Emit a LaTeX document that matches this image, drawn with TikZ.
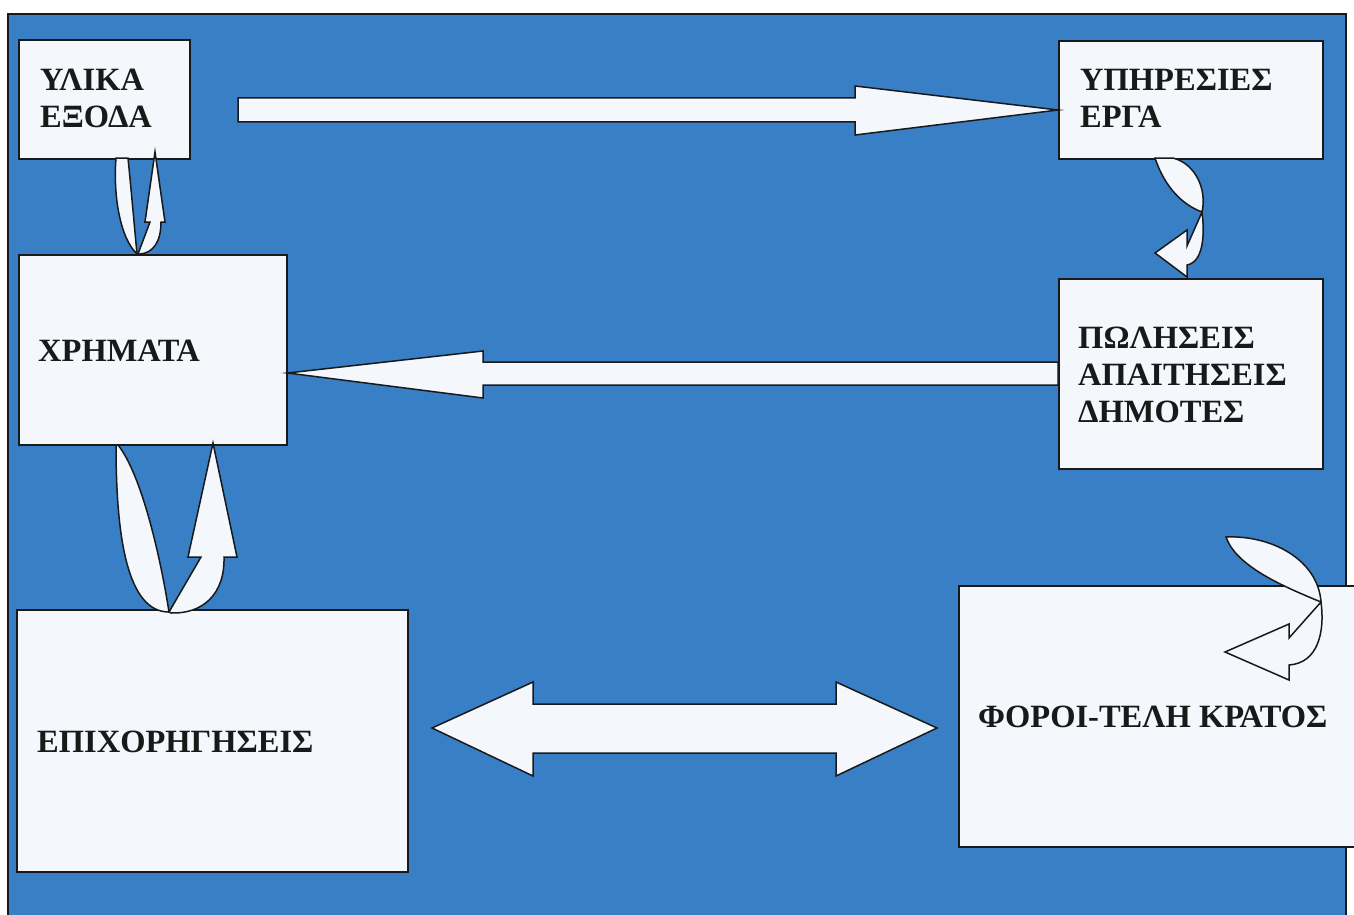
\documentclass[tikz,border=0pt]{standalone}
\usepackage{fontspec}
\setmainfont{Liberation Serif}
\definecolor{bgblue}{RGB}{57,127,197}
\definecolor{boxfill}{RGB}{244,247,251}
\definecolor{inkc}{RGB}{25,25,25}
\tikzset{
  box/.style={draw=inkc, fill=boxfill, line width=1.7pt, inner sep=0pt, anchor=north west},
  blockarrow/.style={draw=inkc, fill=boxfill, line width=1.5pt, line join=miter},
  lbl/.style={font=\fontsize{32.5}{37}\selectfont\bfseries, text=inkc, inner sep=0pt, anchor=base west}
}
\begin{document}
\begin{tikzpicture}[x=1pt,y=-1pt]
\useasboundingbox (0,0) rectangle (1354,915);
% background panel
\fill[bgblue] (8,14) rectangle (1346,915);
\draw[inkc, line width=1.2pt] (8,915) -- (8,14) -- (1346,14) -- (1346,915);

% boxes
\node[box, minimum width=171pt, minimum height=119pt] (ylika) at (18,39) {};
\node[box, minimum width=264pt, minimum height=118pt] (yperesies) at (1058,40) {};
\node[box, minimum width=268pt, minimum height=190pt] (chrimata) at (18,254) {};
\node[box, minimum width=264pt, minimum height=190pt] (poliseis) at (1058,278) {};
\node[box, minimum width=391pt, minimum height=262pt] (epichorigiseis) at (16,609) {};
\node[box, minimum width=400pt, minimum height=261pt] (foroi) at (958,585) {};

% labels
\node[lbl] (t1) at (40,91) {ΥΛΙΚΑ};
\node[lbl] (t2) at (40,128) {ΕΞΟΔΑ};
\node[lbl] (t3) at (1080,91) {ΥΠΗΡΕΣΙΕΣ};
\node[lbl] (t4) at (1080,128) {ΕΡΓΑ};
\node[lbl] (t5) at (38,361) {ΧΡΗΜΑΤΑ};
\node[lbl] (t6) at (1078,348) {ΠΩΛΗΣΕΙΣ};
\node[lbl] (t7) at (1078,385) {ΑΠΑΙΤΗΣΕΙΣ};
\node[lbl] (t8) at (1078,422) {ΔΗΜΟΤΕΣ};
\node[lbl] (t9) at (37,752) {ΕΠΙΧΟΡΗΓΗΣΕΙΣ};
\node[lbl] (t10) at (978,727) {ΦΟΡΟΙ-ΤΕΛΗ ΚΡΑΤΟΣ};

% straight block arrows
\draw[blockarrow] (238,98) -- (855,98) -- (855,86) -- (yperesies.west |- 0,110) -- (855,135) -- (855,122) -- (238,122) -- cycle;
\draw[blockarrow] (poliseis.west |- 0,362) -- (483,362) -- (483,351) -- (chrimata.east |- 0,373) -- (483,398) -- (483,385) -- (poliseis.west |- 0,385) -- cycle;
\draw[blockarrow] (432,728) -- (533,682) -- (533,704) -- (836,704) -- (836,682) -- (937,728) -- (836,776) -- (836,753) -- (533,753) -- (533,776) -- cycle;

% curved arrows between ΥΛΙΚΑ ΕΞΟΔΑ and ΧΡΗΜΑΤΑ
\draw[blockarrow] (116,158) .. controls (113,195) and (120,238) .. (137,254) .. controls (134,222) and (131,188) .. (128,158) -- cycle;
\draw[blockarrow] (138,254) -- (150,222) -- (145,222) -- (155,152) -- (165,222) -- (161,222) .. controls (161,242) and (153,253) .. (140,254) -- cycle;

% curved arrows between ΧΡΗΜΑΤΑ and ΕΠΙΧΟΡΗΓΗΣΕΙΣ
\draw[blockarrow] (116,445) .. controls (116,540) and (128,612) .. (169,612) .. controls (161,560) and (142,475) .. (118,445) -- cycle;
\draw[blockarrow] (169,612) -- (201,557) -- (188,557) -- (213,443) -- (237,557) -- (224,557) .. controls (225,595) and (202,614) .. (171,613) -- cycle;

% curved arrow between ΥΠΗΡΕΣΙΕΣ ΕΡΓΑ and ΠΩΛΗΣΕΙΣ
\draw[blockarrow] (1155,158) .. controls (1165,188) and (1183,205) .. (1202,212) .. controls (1207,190) and (1196,164) .. (1173,158) -- cycle;
\draw[blockarrow] (1202,212) -- (1187,246) -- (1187,230) -- (1155,253) -- (1187,277) -- (1187,265) .. controls (1203,262) and (1205,236) .. (1202,212) -- cycle;

% curved arrow at ΦΟΡΟΙ-ΤΕΛΗ ΚΡΑΤΟΣ
\draw[blockarrow] (1226,537) .. controls (1272,535) and (1318,560) .. (1321,602) .. controls (1282,586) and (1236,566) .. (1226,537) -- cycle;
\draw[blockarrow] (1321,602) -- (1289,638) -- (1289,624) -- (1225,652) -- (1289,680) -- (1289,665) .. controls (1318,663) and (1325,632) .. (1321,602) -- cycle;
\end{tikzpicture}
\end{document}
